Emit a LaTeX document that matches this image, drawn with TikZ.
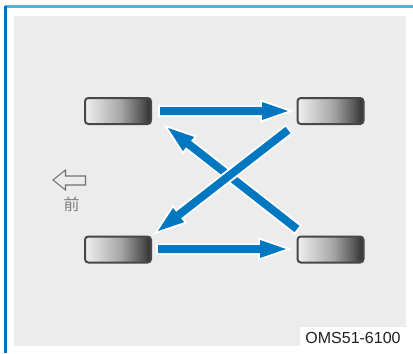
\documentclass[tikz,border=0pt]{standalone}
\usepackage{fontspec}
\setmainfont{Liberation Sans}
\newfontfamily\cjk{Noto Sans CJK SC}
\usetikzlibrary{calc}
\definecolor{bgray}{HTML}{ECECEC}
\definecolor{arrowblue}{HTML}{0078C1}
\definecolor{frametop}{HTML}{5AAEDC}
\definecolor{frameleft}{HTML}{0070BC}
\definecolor{tireedge}{HTML}{474747}
\definecolor{tc0}{HTML}{F0F0F0}
\definecolor{tc1}{HTML}{A6A6A6}
\definecolor{tc2}{HTML}{5C5C5C}
\definecolor{tc3}{HTML}{3A3A3A}
\definecolor{frontgray}{HTML}{707070}
\pgfdeclarehorizontalshading{tireshade}{100bp}{color(0bp)=(tc0); color(25bp)=(tc0); color(52bp)=(tc1); color(67bp)=(tc2); color(73bp)=(tc3); color(75bp)=(tc3); color(100bp)=(tc3)}
\tikzset{
  tirebox/.style={draw=tireedge, line width=1.5pt, rounded corners=2.5pt, shading=tireshade, minimum width=49.5pt, minimum height=19.5pt, inner sep=0pt},
  bluefill/.style={fill=arrowblue, preaction={draw=white, line width=3pt, line join=miter}},
}
\newcommand\blarrow[2]{%
  \coordinate (hb) at ($(#2)!19.5pt!(#1)$);
  \path[bluefill] ($(#1)!3pt!90:(#2)$) -- ($(hb)!3pt!90:(#2)$) -- ($(hb)!6.75pt!90:(#2)$) -- (#2)
    -- ($(hb)!6.75pt!-90:(#2)$) -- ($(hb)!3pt!-90:(#2)$) -- ($(#1)!3pt!-90:(#2)$) -- cycle;}
\begin{document}
\begin{tikzpicture}[x=0.75pt,y=-0.75pt]
\useasboundingbox (0,0) rectangle (413,353);
\fill[white] (0,0) rectangle (413,353);
\fill[bgray] (14,16) rectangle (406,346);
\fill[white] (300,327) rectangle (413,353);
\draw[frametop, line width=1.6pt] (5,6.5) -- (413,6.5);
\draw[frameleft, line width=1.6pt] (5.5,6) -- (5.5,353);
\node[anchor=center, font=\fontsize{12}{14}\selectfont, text=black!88] (code) at (353,338) {OMS51-6100};
% tires
\node[tirebox] (fl) at (118,111) {};
\node[tirebox] (fr) at (330.5,111) {};
\node[tirebox] (rl) at (118,249.5) {};
\node[tirebox] (rr) at (330.5,249.5) {};
% arrows
\coordinate (a1s) at (160,111); \coordinate (a1e) at (288,111);
\coordinate (a2s) at (158,249); \coordinate (a2e) at (286,249);
\coordinate (a3s) at (288,130); \coordinate (a3e) at (158,231);
\coordinate (a4s) at (297,229); \coordinate (a4e) at (168,128);
\blarrow{a1s}{a1e}
\blarrow{a2s}{a2e}
\blarrow{a4s}{a4e}
\blarrow{a3s}{a3e}
% front indicator
\draw[frontgray, line width=0.8pt, line join=miter] (53,180) -- (65.5,170) -- (65.5,176) -- (85.5,176) -- (85.5,185) -- (65.5,185) -- (65.5,190) -- cycle;
\node[font=\cjk\fontsize{12}{14}\selectfont, text=frontgray!90, inner sep=0pt] (front) at (71.5,204.5) {前};
\end{tikzpicture}
\end{document}
